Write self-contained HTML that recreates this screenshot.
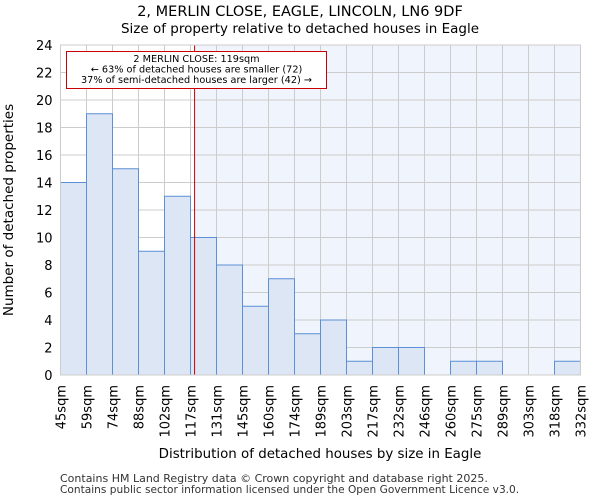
<!DOCTYPE html>
<html><head><meta charset="utf-8"><style>
body{margin:0;background:#fff;font-family:"DejaVu Sans","Liberation Sans",sans-serif}
</style></head><body>
<svg id="chart" width="600" height="500" xmlns="http://www.w3.org/2000/svg" font-family="DejaVu Sans, Liberation Sans, sans-serif">
<text x="300" y="16" text-anchor="middle" font-size="14.5">2, MERLIN CLOSE, EAGLE, LINCOLN, LN6 9DF</text>
<text x="300" y="33" text-anchor="middle" font-size="13.5">Size of property relative to detached houses in Eagle</text>
<g id="plot"></g>
<text x="320" y="458" text-anchor="middle" font-size="13.4">Distribution of detached houses by size in Eagle</text>
<text transform="translate(13,210) rotate(-90)" text-anchor="middle" font-size="13.5">Number of detached properties</text>
<text x="60" y="482" font-size="11" fill="#333">Contains HM Land Registry data © Crown copyright and database right 2025.</text>
<text x="60" y="493" font-size="10.6" fill="#333">Contains public sector information licensed under the Open Government Licence v3.0.</text>
</svg>
<script>
const binLabels=["45sqm","59sqm","74sqm","88sqm","102sqm","117sqm","131sqm","145sqm","160sqm","174sqm","189sqm","203sqm","217sqm","232sqm","246sqm","260sqm","275sqm","289sqm","303sqm","318sqm","332sqm"];
const counts=[14,19,15,9,13,10,8,5,7,3,4,1,2,2,0,1,1,0,0,1];
const yTicks=[0,2,4,6,8,10,12,14,16,18,20,22,24];
const propertySize=119;
const sizeMin=45,sizeMax=332;
const X0=60.5,X1=580.5,Y0=375,Y1=45,YMAX=24;
const n=counts.length;
const xi=i=>X0+(X1-X0)*i/n;
const xv=v=>X0+(v-sizeMin)/(sizeMax-sizeMin)*(X1-X0);
const y=v=>Y0-(Y0-Y1)*v/YMAX;
const NS="http://www.w3.org/2000/svg";
const g=document.getElementById('plot');
function mk(t,a){const e=document.createElementNS(NS,t);for(const k in a)e.setAttribute(k,a[k]);g.appendChild(e);return e;}
const px=xv(propertySize);
let e=mk('rect',{x:px,y:Y1,width:X1-px,height:Y0-Y1,fill:'#f0f4fc'});


for(const t of yTicks){
 e=mk('line',{x1:X0,x2:X1,y1:y(t),y2:y(t),stroke:'#ccc','stroke-width':1});
 
 
 e=mk('text',{x:X0-8,y:y(t)+5,'text-anchor':'end','font-size':13});
 e.textContent=t;
 
 
}
for(let i=0;i<=n;i++){
 e=mk('line',{x1:xi(i),x2:xi(i),y1:Y1,y2:Y0,stroke:'#ccc','stroke-width':1});
 
 
 const lx=xi(i)+5;
 e=mk('text',{x:0,y:0,'text-anchor':'end','font-size':13,transform:`translate(${lx},${Y0+10}) rotate(-90)`});
 e.textContent=binLabels[i];
 
 
}
for(let i=0;i<n;i++){
 if(counts[i]<=0)continue;
 e=mk('rect',{x:xi(i),y:y(counts[i]),width:xi(i+1)-xi(i),height:Y0-y(counts[i]),fill:'#dce6f4',stroke:'#5b8fd6','stroke-width':1});
 
 
}
e=mk('line',{x1:px,x2:px,y1:Y1,y2:Y0,stroke:'#c00','stroke-width':1});


e=mk('rect',{x:66.5,y:51.5,width:260,height:37,fill:'#fff',stroke:'#c00','stroke-width':1});


const ann=["2 MERLIN CLOSE: 119sqm","← 63% of detached houses are smaller (72)","37% of semi-detached houses are larger (42) →"];
ann.forEach((s,k)=>{e=mk('text',{x:196.5,y:62+k*10.5,'text-anchor':'middle','font-size':9.7});e.textContent=s;
 
 });
e=mk('rect',{x:X0,y:Y1,width:X1-X0,height:Y0-Y1,fill:'none',stroke:'#ccc'});


</script>
</body></html>
